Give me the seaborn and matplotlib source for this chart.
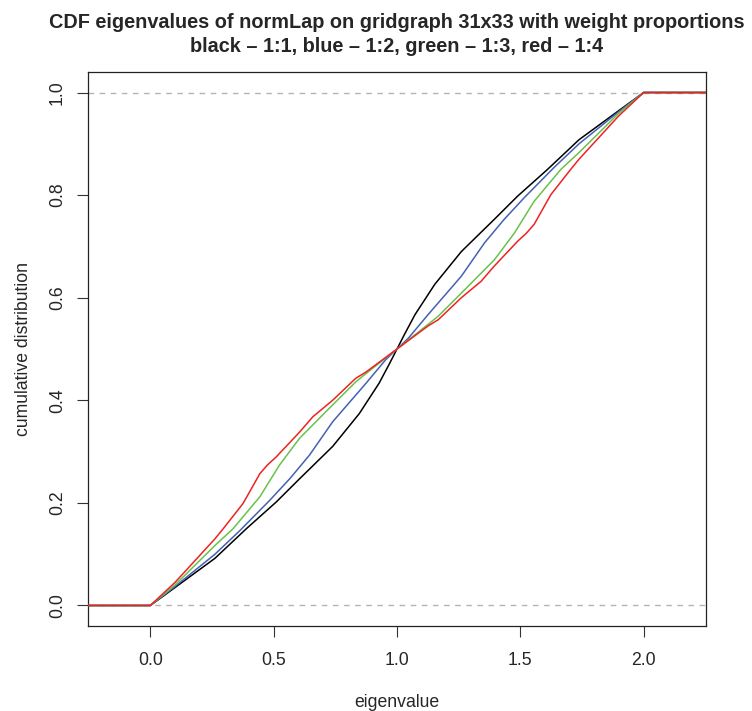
import matplotlib
matplotlib.use("Agg")
import matplotlib.pyplot as plt
import seaborn as sns
import pandas as pd

# ---- data (eigenvalue, cumulative share) ----
black_x = [0.0, 0.10, 0.262, 0.390, 0.511, 0.605, 0.739, 0.847, 0.927, 0.968, 1.0,
           1.032, 1.073, 1.153, 1.261, 1.395, 1.489, 1.610, 1.738, 1.900, 2.0]
black_F = [0.0, 0.035, 0.092, 0.150, 0.202, 0.247, 0.310, 0.374, 0.433, 0.470, 0.5,
           0.530, 0.567, 0.626, 0.690, 0.753, 0.798, 0.850, 0.908, 0.965, 1.0]

blue_x = [0.0, 0.10, 0.262, 0.363, 0.484, 0.565, 0.645, 0.739, 0.874, 0.954, 1.0,
          1.046, 1.126, 1.261, 1.355, 1.435, 1.516, 1.637, 1.738, 1.900, 2.0]
blue_F = [0.0, 0.037, 0.100, 0.146, 0.205, 0.247, 0.293, 0.358, 0.433, 0.479, 0.5,
          0.521, 0.567, 0.642, 0.707, 0.753, 0.795, 0.854, 0.900, 0.963, 1.0]

green_x = [0.0, 0.10, 0.262, 0.336, 0.444, 0.524, 0.605, 0.739, 0.833, 0.874, 1.0,
           1.126, 1.167, 1.261, 1.395, 1.476, 1.556, 1.664, 1.738, 1.900, 2.0]
green_F = [0.0, 0.040, 0.117, 0.150, 0.212, 0.274, 0.326, 0.391, 0.436, 0.452, 0.5,
           0.548, 0.564, 0.609, 0.674, 0.726, 0.788, 0.850, 0.883, 0.960, 1.0]

red_x = [0.0, 0.10, 0.262, 0.296, 0.376, 0.410, 0.444, 0.475, 0.511, 0.605, 0.659, 0.739,
         0.833, 0.874, 1.0, 1.126, 1.167, 1.261, 1.341, 1.395, 1.489, 1.525, 1.556, 1.590,
         1.624, 1.704, 1.738, 1.900, 2.0]
red_F = [0.0, 0.045, 0.130, 0.150, 0.199, 0.228, 0.257, 0.274, 0.290, 0.338, 0.368, 0.400,
         0.443, 0.455, 0.5, 0.545, 0.557, 0.600, 0.632, 0.662, 0.710, 0.726, 0.743, 0.772,
         0.801, 0.850, 0.870, 0.955, 1.0]

series_names = ["1:1", "1:2", "1:3", "1:4"]
series_x = [black_x, blue_x, green_x, red_x]
series_F = [black_F, blue_F, green_F, red_F]
colors = {"1:1": "#000000", "1:2": "#4461B3", "1:3": "#68C24C", "1:4": "#EE2222"}

title_lines = ["CDF eigenvalues of normLap on gridgraph 31x33 with weight proportions",
               "black \u2013 1:1, blue \u2013 1:2, green \u2013 1:3, red \u2013 1:4"]
x_ticks = [0.0, 0.5, 1.0, 1.5, 2.0]
y_ticks = [0.0, 0.2, 0.4, 0.6, 0.8, 1.0]

# ---- limits like R's plot.ecdf ----
lo, hi = 0.0, 2.0
dr = 0.08 * (hi - lo)
xl0, xl1 = lo - dr, hi + dr
pad = 0.04 * (xl1 - xl0)
xmin, xmax = xl0 - pad, xl1 + pad
ymin, ymax = -0.04, 1.04

rows = []
for name, xs, fs in zip(series_names, series_x, series_F):
    xx = [xmin] + list(xs) + [xmax]
    ff = [0.0] + list(fs) + [1.0]
    for i, (a, b) in enumerate(zip(xx, ff)):
        rows.append({"series": name, "order": i, "eigenvalue": a, "F": b})
df = pd.DataFrame(rows)

sns.set_style("white")
plt.rcParams["font.family"] = ["Liberation Sans", "DejaVu Sans"]

fig = plt.figure(figsize=(7.52, 7.11), dpi=100)
ax = fig.add_axes([88 / 752, 85 / 711, (706 - 88) / 752, (626 - 72) / 711])

for yv in (0.0, 1.0):
    ax.axhline(yv, color="#B3B3B3", lw=1.0, ls=(0, (4, 4)), zorder=1)

sns.lineplot(data=df, x="eigenvalue", y="F", hue="series", palette=colors,
             hue_order=series_names, sort=False, estimator=None, units="series",
             lw=1.1, legend=False, ax=ax, zorder=3)

fs_lab = 12.7
ax.set_xlim(xmin, xmax)
ax.set_ylim(ymin, ymax)
ax.set_xticks(x_ticks)
ax.set_xticklabels([f"{v:.1f}" for v in x_ticks], fontsize=fs_lab)
ax.set_yticks(y_ticks)
ax.set_yticklabels([f"{v:.1f}" for v in y_ticks], fontsize=fs_lab, rotation=90, va="center")
ax.tick_params(axis="both", direction="out", length=8, width=0.8, color="#333333",
               bottom=True, left=True)
ax.tick_params(axis="x", pad=11)
ax.tick_params(axis="y", pad=8)
for s in ax.spines.values():
    s.set_color("#222222")
    s.set_linewidth(0.9)

ax.set_xlabel("eigenvalue", fontsize=fs_lab, labelpad=18)
ax.set_ylabel("cumulative distribution", fontsize=fs_lab, labelpad=12)

cx = (88 + 706) / 2 / 752
fig.text(cx, 1 - 22 / 711, title_lines[0], ha="center", va="center",
         fontsize=14.3, fontweight="bold")
fig.text(cx, 1 - 46 / 711, title_lines[1], ha="center", va="center",
         fontsize=14.3, fontweight="bold")

fig.savefig("out.png", dpi=100, facecolor="white")
